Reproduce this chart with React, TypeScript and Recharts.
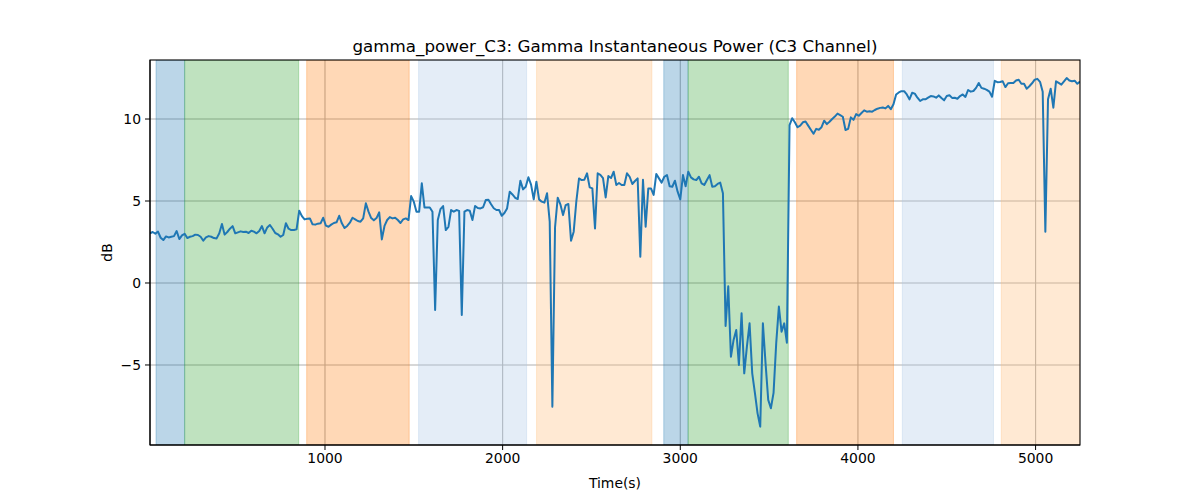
import { CartesianGrid, Label, Line, LineChart, ReferenceArea, XAxis, YAxis } from 'recharts'

// sampling grid of the power estimate (seconds)
const T0 = 15
const STEP = 15

// gamma power (dB) in six stretches
const powerSeg1 = [
  3.03, 3.11, 3.01, 3.13, 2.76, 2.62, 2.84, 2.78, 2.82, 2.86,
  3.17, 2.68, 2.9, 3.0, 2.74, 2.82, 2.86, 2.95, 2.93, 2.82,
  2.58, 2.78, 2.86, 2.82, 2.74, 2.72, 3.03, 3.6, 2.95, 3.11,
  3.31, 3.47, 3.03, 3.09, 3.15, 3.11, 3.13, 3.05, 3.19, 3.13,
  3.03, 3.17, 3.47, 3.03, 3.39, 3.54, 3.31, 3.05, 2.97, 2.82,
  2.93, 3.64, 3.31, 3.23, 3.23, 3.27, 4.41, 4.08, 3.88, 3.92,
  3.94, 3.58,
]
const powerSeg2 = [
  3.56, 3.62, 3.64, 3.98, 3.5, 3.43, 3.56, 3.66,
  3.7, 4.1, 3.64, 3.35, 3.48, 3.68, 3.98, 3.88, 3.78, 3.74,
  3.94, 4.86, 4.35, 3.96, 3.82, 3.96, 4.31, 2.66, 3.48, 3.84,
  4.02, 3.94, 3.98, 3.84, 3.66, 3.88, 3.94, 3.84, 5.3, 4.96,
  4.35, 4.35, 6.08, 4.61, 4.61, 4.61, 4.35, -1.65, 3.84, 4.5,
  4.69, 3.23, 3.43, 4.45, 4.35, 4.45, 4.4,
]
const powerSeg3 = [
  -1.95, 4.35, 4.45, 4.41,
  3.84, 4.7, 4.57, 4.55, 4.62, 5.06, 5.08, 4.8, 4.56,
  4.45, 4.45, 4.1, 4.27, 4.55, 5.57, 5.4, 5.2, 5.12, 6.24,
  5.71, 5.87, 6.45, 6.0, 5.1, 6.18, 5.1, 4.96, 4.9, 5.47,
  3.74, -7.54, 3.4, 5.2, 4.8, 4.14, 4.75, 4.82, 2.58, 3.13,
  5.0, 6.38, 6.28, 6.3, 6.69, 5.83, 5.77, 3.33, 6.69, 6.6,
  6.4, 5.22, 6.52, 6.4, 6.79, 5.98, 6.1, 5.98, 5.98, 6.69,
  6.48,
]
const powerSeg4 = [
  6.04, 6.22, 6.38, 1.6, 6.3, 3.43, 5.77, 5.77, 5.37,
  6.65, 6.38, 6.12, 6.48, 6.58, 5.9, 5.87, 6.24, 5.57, 5.1,
  6.58, 5.9, 6.79, 6.44, 6.32, 6.28, 6.48, 6.08, 5.98, 6.28,
  6.58, 5.87, 5.9, 6.04, 6.12, 5.47, -2.62, -0.2, -4.5, -3.47,
  -2.87, -5.0, -1.85, -5.51, -3.88, -2.46, -5.51, -6.7, -7.95, -8.76,
  -2.46, -4.9, -7.13, -7.64, -6.7, -3.67, -1.44, -2.97, -2.46, -3.64,
]
const powerSeg5 = [
  9.63, 10.05, 9.8, 9.5, 9.6, 9.8, 9.85, 9.6, 9.35, 9.1,
  9.4, 9.35, 9.5, 9.9, 9.69, 9.83, 10.0, 10.15, 10.33, 10.24,
  10.14, 9.33, 9.4, 10.1, 9.95, 10.3, 10.2, 10.37, 10.53, 10.45,
  10.47, 10.45, 10.55, 10.63, 10.68, 10.7, 10.65, 10.8, 10.6, 10.9,
  11.5, 11.62, 11.7, 11.7, 11.5, 11.2, 11.6, 11.55, 11.3, 11.1,
  11.2, 11.2, 11.3,
]
const powerSeg6 = [
  11.4, 11.38, 11.3, 11.44, 11.28, 11.14, 11.4,
  11.45, 11.29, 11.3, 11.24, 11.4, 11.5, 11.35, 11.77, 11.67, 11.71,
  11.9, 12.2, 11.9, 11.85, 11.78, 11.67, 11.36, 12.33, 12.25, 12.26,
  12.3, 11.95, 12.18, 12.2, 12.2, 12.35, 12.4, 12.15, 12.15, 11.85,
  12.0, 12.18, 12.4, 12.45, 12.27, 11.67, 3.13, 11.2, 11.85, 10.69,
  12.3, 12.2, 12.1, 12.3, 12.5, 12.35, 12.3, 12.34, 12.15, 12.28,
]

// shaded stage spans (s)
const spanStart = [49, 210, 897, 1527, 2191, 2907, 3044, 3655, 4250, 4807]
const spanEnd = [210, 852, 1474, 2135, 2840, 3044, 3608, 4200, 4763, 5250]
const spanKind = ['blue', 'green', 'orange', 'lightblue', 'lightorange', 'blue', 'green', 'orange', 'lightblue', 'lightorange']

const xTicks = [1000, 2000, 3000, 4000, 5000]
const yTicks = [-5, 0, 5, 10]

const spanColors: Record<string, { color: string; alpha: number }> = {
  blue: { color: '#1f77b4', alpha: 0.3 },
  green: { color: '#2ca02c', alpha: 0.3 },
  orange: { color: '#ff7f0e', alpha: 0.3 },
  lightblue: { color: '#aec7e8', alpha: 0.33 },
  lightorange: { color: '#ffbb78', alpha: 0.33 },
}

const power = [...powerSeg1, ...powerSeg2, ...powerSeg3, ...powerSeg4, ...powerSeg5, ...powerSeg6]
const data = power.map((v, i) => ({ t: T0 + i * STEP, v }))

const FONT = '"DejaVu Sans", sans-serif'
const tickStyle = { fill: '#000', fontSize: 13.9, fontFamily: FONT }
const fmtY = (v: number) => (v < 0 ? '\u2212' + Math.abs(v) : String(v))

export default function App() {
  return (
    <div style={{ position: 'absolute', left: 0, top: 0, width: 1200, height: 500, background: '#fff' }}>
      <div
        style={{
          position: 'absolute', left: 150, width: 930, top: 36, textAlign: 'center',
          fontFamily: FONT, fontSize: 16.7, lineHeight: '20px', color: '#000',
        }}
      >
        gamma_power_C3: Gamma Instantaneous Power (C3 Channel)
      </div>
      <LineChart width={1200} height={500} data={data} margin={{ top: 60, right: 120, bottom: 10, left: 90 }}>
        {spanStart.map((s, i) => {
          const c = spanColors[spanKind[i]]
          return (
            <ReferenceArea
              key={i}
              x1={s}
              x2={spanEnd[i]}
              fill={c.color}
              fillOpacity={c.alpha}
              stroke={c.color}
              strokeOpacity={c.alpha}
              ifOverflow="hidden"
            />
          )
        })}
        <CartesianGrid stroke="#b0b0b0" strokeWidth={1.1} verticalValues={xTicks} horizontalValues={yTicks} />
        <XAxis
          dataKey="t"
          type="number"
          domain={['dataMin', 'dataMax']}
          ticks={xTicks}
          tick={tickStyle}
          tickSize={5}
          tickMargin={3}
          stroke="#000"
          height={45}
          allowDataOverflow
        >
          <Label value="Time(s)" position="insideBottom" offset={2} style={{ fill: '#000', fontSize: 13.9, fontFamily: FONT }} />
        </XAxis>
        <YAxis
          type="number"
          domain={[-9.88, 13.6]}
          ticks={yTicks}
          tickFormatter={fmtY}
          tick={tickStyle}
          tickSize={5}
          tickMargin={4}
          stroke="#000"
          width={60}
          allowDataOverflow
        >
          <Label
            content={({ viewBox }: any) => {
              const x = viewBox.x + 17
              const y = viewBox.y + viewBox.height / 2
              return (
                <text x={x} y={y} transform={`rotate(-90 ${x} ${y})`} textAnchor="middle" dominantBaseline="central" fill="#000" fontSize={13.9} fontFamily={FONT}>
                  dB
                </text>
              )
            }}
          />
        </YAxis>
        <Line
          type="linear"
          dataKey="v"
          stroke="#1f77b4"
          strokeWidth={2}
          dot={false}
          activeDot={false}
          isAnimationActive={false}
          strokeLinejoin="round"
        />
      </LineChart>
      {/* axes frame (top/right spines) */}
      <svg width={1200} height={500} style={{ position: 'absolute', left: 0, top: 0, pointerEvents: 'none' }}>
        <rect x={150} y={60} width={930} height={385} fill="none" stroke="#000" strokeWidth={1.1} />
      </svg>
    </div>
  )
}
